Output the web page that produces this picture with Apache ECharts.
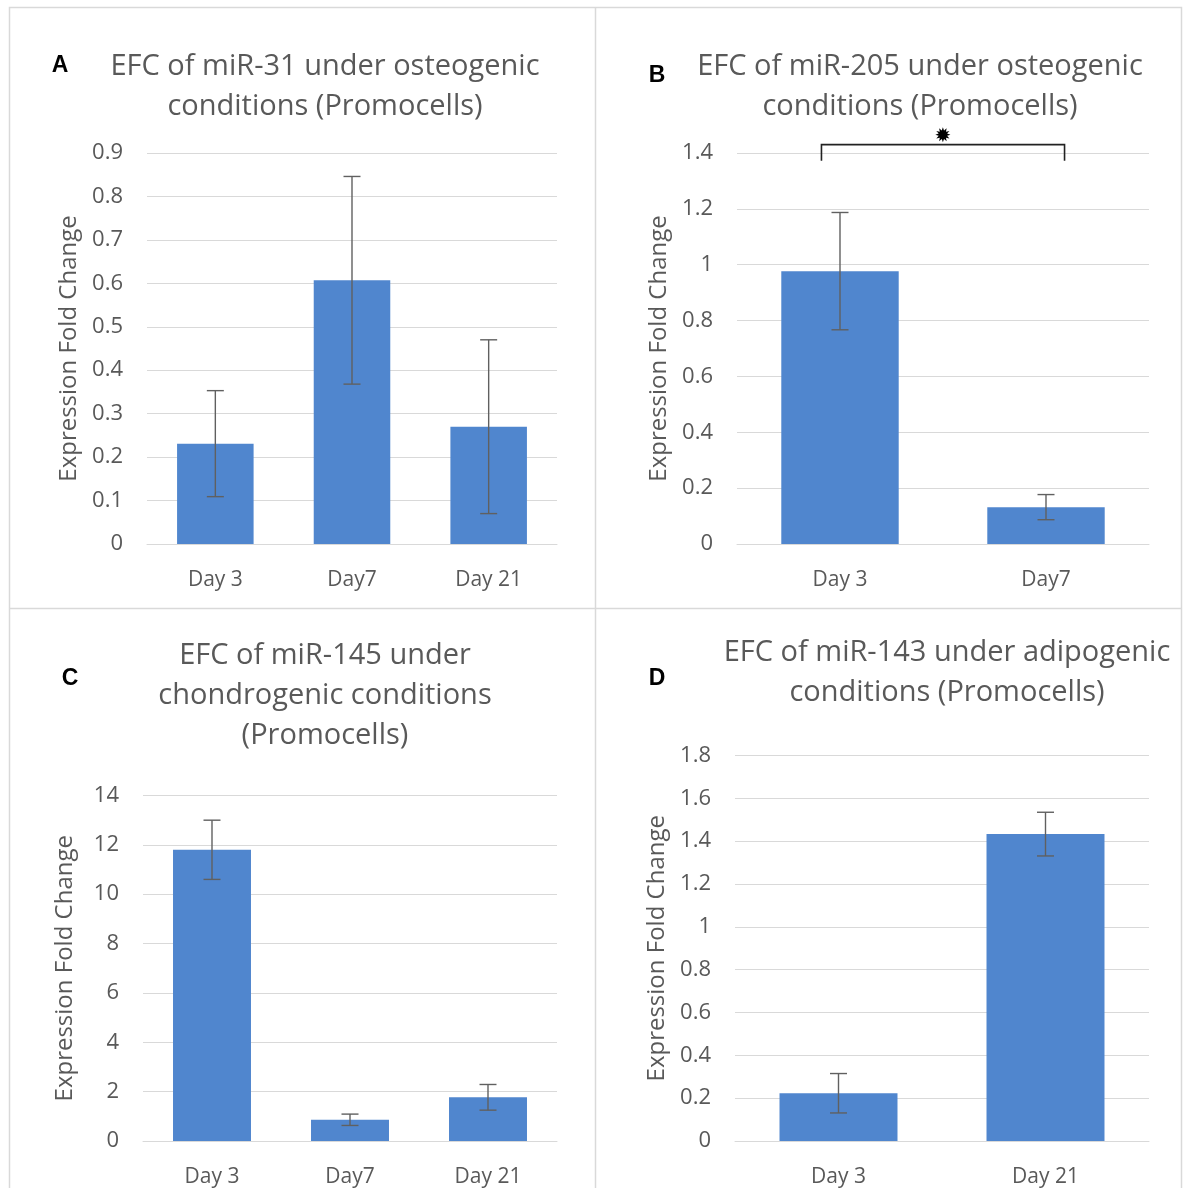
<!DOCTYPE html>
<html><head><meta charset="utf-8">
<script src="https://cdn.jsdelivr.net/npm/echarts@6/dist/echarts.min.js"></script>
<style>html,body{margin:0;padding:0;background:#fff;}#c{width:1187px;height:1188px;}</style>
</head><body><div id="c"></div>
<script>
// ---------- data ----------
const categoriesA = ['Day 3', 'Day7', 'Day 21'];
const valuesA = [0.231, 0.607, 0.270];
const errorsA = [0.122, 0.239, 0.200];
const ticksA = [0, 0.1, 0.2, 0.3, 0.4, 0.5, 0.6, 0.7, 0.8, 0.9];

const categoriesB = ['Day 3', 'Day7'];
const valuesB = [0.977, 0.132];
const errorsB = [0.210, 0.045];
const ticksB = [0, 0.2, 0.4, 0.6, 0.8, 1, 1.2, 1.4];
const significanceB = [[0, 1, 1.43, 1.372]]; // from cat, to cat, bracket level, leg end

const categoriesC = ['Day 3', 'Day7', 'Day 21'];
const valuesC = [11.8, 0.86, 1.77];
const errorsC = [1.2, 0.23, 0.52];
const ticksC = [0, 2, 4, 6, 8, 10, 12, 14];

const categoriesD = ['Day 3', 'Day 21'];
const valuesD = [0.223, 1.433];
const errorsD = [0.092, 0.102];
const ticksD = [0, 0.2, 0.4, 0.6, 0.8, 1, 1.2, 1.4, 1.6, 1.8];

const titlesText = [
  'EFC of miR-31 under osteogenic\nconditions (Promocells)',
  'EFC of miR-205 under osteogenic\nconditions (Promocells)',
  'EFC of miR-145 under\nchondrogenic conditions\n(Promocells)',
  'EFC of miR-143 under adipogenic\nconditions (Promocells)'
];
const panelLetters = ['A', 'B', 'C', 'D'];
const yAxisTitle = 'Expression Fold Change';

// ---------- style ----------
const FONT = '"Open Sans", Lato, sans-serif';
const TXT = '#595959';
const GRID = '#D9D9D9';
const BAR = '#5086CE';

const panels = [
  {cats: categoriesA, vals: valuesA, errs: errorsA, ticks: ticksA, grid: {left: 147, top: 153, width: 410, height: 391}, bw: '56%'},
  {cats: categoriesB, vals: valuesB, errs: errorsB, ticks: ticksB, grid: {left: 737, top: 153, width: 412, height: 391}, bw: '57%'},
  {cats: categoriesC, vals: valuesC, errs: errorsC, ticks: ticksC, grid: {left: 143, top: 795.5, width: 414, height: 350.5}, bw: '56.5%'},
  {cats: categoriesD, vals: valuesD, errs: errorsD, ticks: ticksD, grid: {left: 735, top: 755.5, width: 414, height: 390.5}, bw: '57%'}
];

function errorRender(params, api) {
  const x = api.value(0), v = api.value(1), e = api.value(2);
  const top = api.coord([x, v + e]);
  const bot = api.coord([x, v - e]);
  const hw = 8.5;
  const style = {stroke: '#606060', lineWidth: 1.4};
  return {type: 'group', children: [
    {type: 'line', shape: {x1: top[0], y1: top[1], x2: bot[0], y2: bot[1]}, style},
    {type: 'line', shape: {x1: top[0] - hw, y1: top[1], x2: top[0] + hw, y2: top[1]}, style},
    {type: 'line', shape: {x1: bot[0] - hw, y1: bot[1], x2: bot[0] + hw, y2: bot[1]}, style}
  ]};
}

function bracketRender(params, api) {
  const a = api.value(0), b = api.value(1), lvl = api.value(2), leg = api.value(3);
  const p0 = api.coord([a, lvl]), p1 = api.coord([b, lvl]);
  const q0 = api.coord([a, leg]);
  const off = (p1[0] - p0[0]) * 0.09;
  const x0 = p0[0] - off, x1 = p1[0] + off;
  return {type: 'group', children: [
    {type: 'polyline', shape: {points: [[x0, q0[1]], [x0, p0[1]], [x1, p0[1]], [x1, q0[1]]]},
     style: {stroke: '#222', lineWidth: 1.6, fill: null}},
    {type: 'text', x: (x0 + x1) / 2, y: p0[1] - 8,
     style: {text: '\u2739', font: 'bold 20px "DejaVu Sans"', fill: '#000', align: 'center', verticalAlign: 'middle'}}
  ]};
}

const grids = [], xAxes = [], yAxes = [], series = [];
panels.forEach((p, i) => {
  grids.push(Object.assign({containLabel: false}, p.grid));
  xAxes.push({
    type: 'category', gridIndex: i, data: p.cats,
    axisLine: {lineStyle: {color: GRID, width: 1}},
    axisTick: {show: false},
    axisLabel: {color: TXT, fontFamily: FONT, fontSize: 21, margin: 26}
  });
  yAxes.push({
    type: 'value', gridIndex: i,
    min: p.ticks[0], max: p.ticks[p.ticks.length - 1], interval: p.ticks[1] - p.ticks[0],
    axisLine: {show: false}, axisTick: {show: false},
    splitLine: {lineStyle: {color: GRID, width: 1}},
    axisLabel: {color: TXT, fontFamily: FONT, fontSize: 22, margin: 24, padding: [3, 0, 0, 0]},
    name: yAxisTitle, nameLocation: 'middle', nameGap: 66,
    nameTextStyle: {color: TXT, fontFamily: FONT, fontSize: 24}
  });
  series.push({
    type: 'bar', xAxisIndex: i, yAxisIndex: i, data: p.vals, barWidth: p.bw,
    itemStyle: {color: BAR}, silent: true
  });
  series.push({
    type: 'custom', xAxisIndex: i, yAxisIndex: i, renderItem: errorRender, z: 5, clip: false,
    data: p.vals.map((v, k) => [k, v, p.errs[k]]), silent: true
  });
});
series.push({
  type: 'custom', xAxisIndex: 1, yAxisIndex: 1, renderItem: bracketRender, z: 6, clip: false,
  data: significanceB, silent: true
});

const titleCenters = [[325, 47], [920, 47], [325, 636], [947, 633]];
const letterPos = [[60, 54], [657, 64], [70, 667], [657, 667]];
const titles = [];
titlesText.forEach((t, i) => {
  titles.push({text: t, left: titleCenters[i][0], top: titleCenters[i][1], textAlign: 'center', padding: 0,
    textStyle: {color: TXT, fontFamily: FONT, fontSize: 29, fontWeight: 'normal', lineHeight: 40}});
});
panelLetters.forEach((t, i) => {
  titles.push({text: t, left: letterPos[i][0], top: letterPos[i][1], textAlign: 'center', padding: 0,
    textStyle: {color: '#000', fontFamily: '"Liberation Sans"', fontSize: 23, fontWeight: 'bold'}});
});

const chart = echarts.init(document.getElementById('c'), null, {renderer: 'canvas'});
chart.setOption({
  animation: false,
  backgroundColor: '#fff',
  title: titles,
  grid: grids, xAxis: xAxes, yAxis: yAxes, series: series,
  graphic: [
    {type: 'rect', shape: {x: 9.5, y: 7.5, width: 1172, height: 1200}, style: {fill: null, stroke: '#D9D9D9', lineWidth: 1.5}, silent: true},
    {type: 'line', shape: {x1: 595.5, y1: 7.5, x2: 595.5, y2: 1200}, style: {stroke: '#D9D9D9', lineWidth: 1.5}, silent: true},
    {type: 'line', shape: {x1: 9.5, y1: 608.5, x2: 1181.5, y2: 608.5}, style: {stroke: '#D9D9D9', lineWidth: 1.5}, silent: true}
  ]
});
</script>
</body></html>
